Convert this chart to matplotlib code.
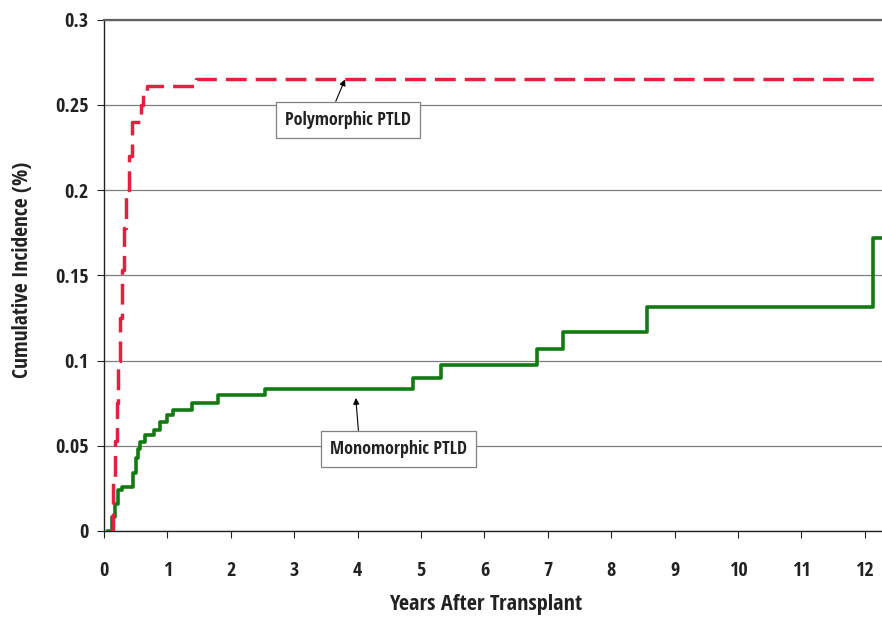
import numpy as np
import matplotlib
matplotlib.use('Agg')
import matplotlib.pyplot as plt

plt.rcParams['font.family'] = ['Open Sans Condensed', 'Liberation Sans', 'DejaVu Sans']
plt.rcParams['font.weight'] = 'bold'

# polymorphic PTLD (red dashed)
poly_years = [0.10, 0.14, 0.17, 0.20, 0.22, 0.25, 0.28, 0.31, 0.35, 0.39, 0.44, 0.58, 0.62, 0.68, 1.45, 12.3]
poly_inc = [0.0, 0.03, 0.053, 0.075, 0.10, 0.125, 0.153, 0.178, 0.20, 0.22, 0.24, 0.25, 0.256, 0.261, 0.265, 0.265]

# monomorphic PTLD (green)
mono_years = [0.06, 0.12, 0.17, 0.22, 0.28, 0.46, 0.50, 0.54, 0.57, 0.65, 0.78, 0.88, 0.99, 1.09, 1.39, 1.80,
              2.54, 4.87, 5.32, 6.83, 7.24, 8.56, 12.13, 12.3]
mono_inc = [0.0, 0.008, 0.016, 0.024, 0.026, 0.034, 0.043, 0.048, 0.052, 0.056, 0.059, 0.064, 0.068, 0.071, 0.075, 0.080,
            0.0834, 0.0898, 0.0975, 0.107, 0.117, 0.1315, 0.172, 0.172]

fig = plt.figure(figsize=(8.82, 6.18), dpi=100)
ax = fig.add_axes([0.118, 0.141, 0.882, 0.827])

ax.plot(mono_years, mono_inc, drawstyle='steps-post', color='#137a13', linewidth=2.6, zorder=3)
ax.plot(poly_years, poly_inc, drawstyle='steps-post', color='#e3203f', linewidth=2.5,
        dashes=(6, 2.6), zorder=4)

ax.set_xlim(0, 12.27)
ax.set_ylim(0, 0.3)
ax.set_xticks(range(0, 13))
ax.set_yticks([0, 0.05, 0.1, 0.15, 0.2, 0.25, 0.3])
ax.set_yticklabels(['0', '0.05', '0.1', '0.15', '0.2', '0.25', '0.3'])
ax.yaxis.grid(True, color='#7f7f7f', linewidth=0.9)
ax.set_axisbelow(True)

ax.tick_params(axis='x', direction='out', length=5, width=0.8, pad=17, labelsize=14.5, colors='#222222')
ax.tick_params(axis='y', direction='out', length=5, width=0.8, pad=6, labelsize=14.5, colors='#222222')
for s in ['left', 'bottom']:
    ax.spines[s].set_color('#222222')
    ax.spines[s].set_linewidth(1.0)
ax.spines['top'].set_color('#606060')
ax.spines['top'].set_linewidth(1.6)
ax.spines['right'].set_visible(False)

ax.set_xlabel('Years After Transplant', fontsize=16, fontweight='bold', color='#222222')
ax.xaxis.set_label_coords(0.49, -0.124)
ax.set_ylabel('Cumulative Incidence (%)', fontsize=15.5, fontweight='bold', color='#222222')
ax.yaxis.set_label_coords(-0.091, 0.51)

box = dict(boxstyle='square,pad=0.5', fc='white', ec='#808080', lw=0.9)
ax.annotate('Polymorphic PTLD', xy=(3.8, 0.265), xytext=(3.85, 0.2413),
            ha='center', va='center', fontsize=13, fontweight='bold', color='#222222', bbox=box,
            arrowprops=dict(arrowstyle='-|>', color='black', lw=0.8, mutation_scale=9,
                            relpos=(0.37, 1.0), shrinkA=0, shrinkB=0))
ax.annotate('Monomorphic PTLD', xy=(3.97, 0.078), xytext=(4.65, 0.0481),
            ha='center', va='center', fontsize=13, fontweight='bold', color='#222222', bbox=box,
            arrowprops=dict(arrowstyle='-|>', color='black', lw=0.8, mutation_scale=9,
                            relpos=(0.21, 1.0), shrinkA=0, shrinkB=0))

fig.savefig('out.png', dpi=100)
